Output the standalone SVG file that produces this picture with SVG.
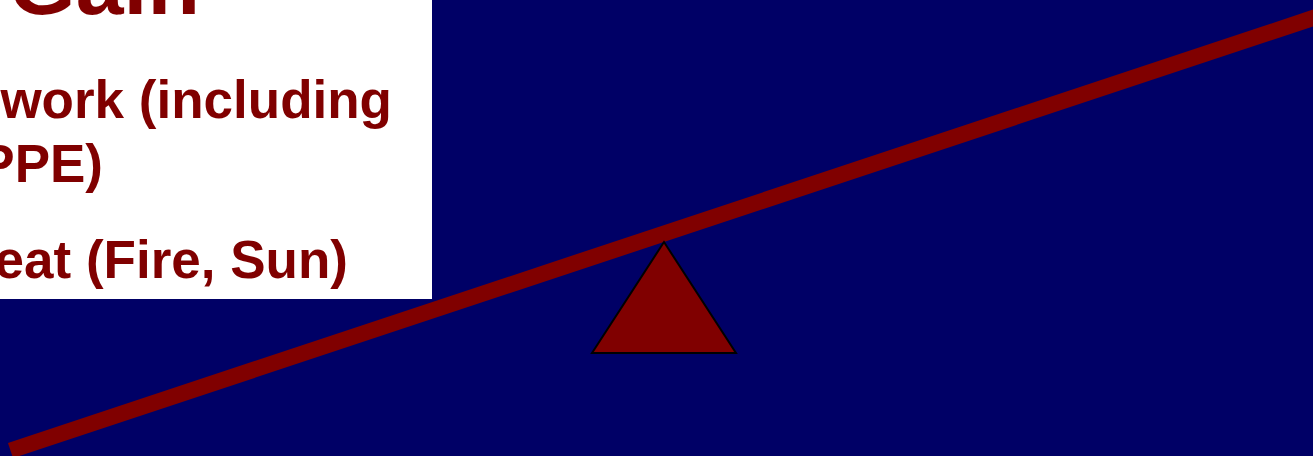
<svg xmlns="http://www.w3.org/2000/svg" width="1313" height="456" viewBox="0 0 1313 456">
<style>
.t{font-family:"Liberation Sans",Arial,sans-serif;font-weight:bold;fill:#800000;text-anchor:end}
</style>
<rect width="1313" height="456" fill="#000066"/>
<g id="textbox">
<rect x="0" y="0" width="432" height="299" fill="#ffffff"/>
<text class="t" x="200" y="14" font-size="86">Gain</text>
<text class="t" x="392" y="118" font-size="53">work (including</text>
<text class="t" x="103" y="182" font-size="53">PPE)</text>
<text class="t" x="348" y="278" font-size="53">eat (Fire, Sun)</text>
</g>
<g id="beam">
<line x1="10.5" y1="450.5" x2="1330" y2="12.4" stroke="#800000" stroke-width="16"/>
</g>
<g id="fulcrum">
<polygon points="664,242 592,353 736,353" fill="#800000" stroke="#000000" stroke-width="2"/>
</g>
</svg>
